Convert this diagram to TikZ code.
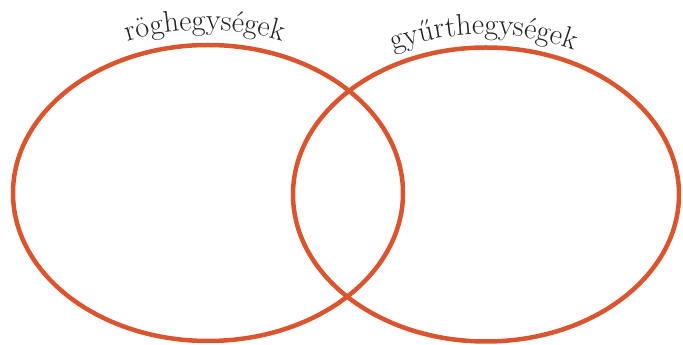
\documentclass[tikz,border=0pt]{standalone}
\usetikzlibrary{decorations.text,calc}
\definecolor{ring}{RGB}{217,85,48}
\definecolor{ink}{RGB}{35,35,35}
\tikzset{
  ringline/.style={draw=ring, line width=4.5pt},
  arclabel/.style={decorate, decoration={text along path, text align=center, text color=ink}}
}
\begin{document}
\begin{tikzpicture}[x=1pt,y=1pt]
\useasboundingbox (0,0) rectangle (683,345);
\coordinate (lc) at (208,152);
\coordinate (rc) at (486,150.5);
\coordinate (lt) at (205,152);
\coordinate (rt) at (484,150.5);
\draw[ringline] (lc) ellipse[x radius=195, y radius=148];
\draw[ringline] (rc) ellipse[x radius=193, y radius=147];
\path[arclabel, decoration={text={|\fontsize{30}{34}\selectfont|röghegységek}}]
  ($(lt)+(135:210 and 163)$) arc[start angle=135, end angle=45, x radius=210, y radius=163];
\path[arclabel, decoration={text={|\fontsize{30}{34}\selectfont|gyűrthegységek}}]
  ($(rt)+(135:205 and 160)$) arc[start angle=135, end angle=45, x radius=205, y radius=160];
\end{tikzpicture}
\end{document}
